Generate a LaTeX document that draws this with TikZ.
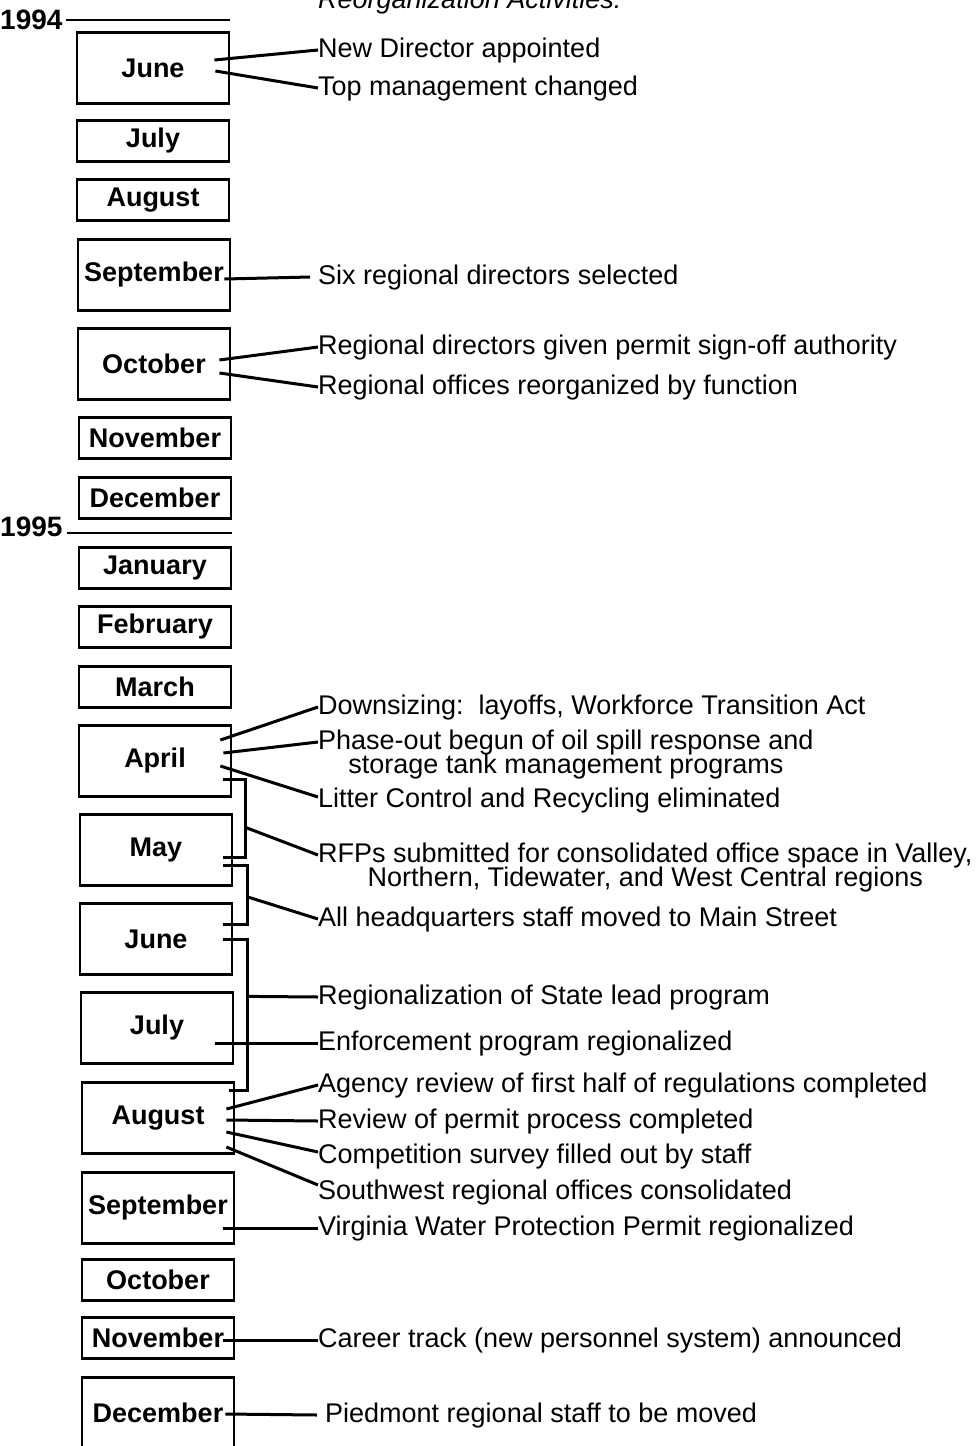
\documentclass[tikz,border=0pt]{standalone}
\usepackage{fontspec}
\setmainfont{Liberation Sans}
\usepackage{tikz}
\usetikzlibrary{positioning}
\tikzset{
  month/.style={draw, line width=2.8pt, minimum width=152pt, minimum height=41pt, inner sep=0pt, font=\fontsize{27}{27}\selectfont\bfseries},
  tallmonth/.style={month, minimum height=71pt},
  lbl/.style={anchor=west, inner sep=0pt, text height=19pt, text depth=5pt, font=\fontsize{27}{27}\selectfont},
  contlbl/.style={inner sep=0pt, text height=19pt, text depth=5pt, font=\fontsize{27}{27}\selectfont},
  year/.style={anchor=west, inner sep=0pt, font=\fontsize{28}{28}\selectfont\bfseries},
  yearrule/.style={line width=2pt},
  conn/.style={line width=3pt}
}
\begin{document}
\begin{tikzpicture}[x=1pt,y=-1pt]
\useasboundingbox (0,0) rectangle (979,1446);
\node[anchor=base west, inner sep=0pt, font=\fontsize{27}{27}\selectfont\itshape] (title) at (318,8) {Reorganization Activities:};

\node[year] (y94) at (0,20) {1994};
\coordinate (y94end) at (230,20);
\draw[yearrule] ([xshift=3pt]y94.east) -- (y94end);
\node[tallmonth] (jun94) at (153,68) {June};
\node[month] (jul94) at (153,141) {July};
\node[month] (aug94) at (153,200) {August};
\node[tallmonth] (sep94) at (154,275) {September};
\node[tallmonth] (oct94) at (154,364) {October};
\node[month] (nov94) at (155,438) {November};
\node[month] (dec94) at (155,498) {December};

\node[year] (y95) at (0,527) {1995};
\coordinate (y95end) at (232,533);
\draw[yearrule] ([xshift=4pt]y95.east |- y95end) -- (y95end);
\node[month] (jan95) at (155,568) {January};
\node[month] (feb95) at (155,627) {February};
\node[month] (mar95) at (155,687) {March};
\node[tallmonth] (apr95) at (155,761) {April};
\node[tallmonth] (may95) at (156,850) {May};
\node[tallmonth] (jun95) at (156,939) {June};
\node[tallmonth] (jul95) at (157,1028) {July};
\node[tallmonth] (aug95) at (158,1118) {August};
\node[tallmonth] (sep95) at (158,1208) {September};
\node[month] (oct95) at (158,1280) {October};
\node[month] (nov95) at (158,1338) {November};
\node[tallmonth] (dec95) at (158,1413) {December};

\node[lbl] (newdir) at (318,50) {New Director appointed};
\node[lbl] (topmgmt) at (318,88) {Top management changed};
\node[lbl] (sixdir) at (318,277) {Six regional directors selected};
\node[lbl] (signoff) at (318,347) {Regional directors given permit sign-off authority};
\node[lbl] (refunc) at (318,387) {Regional offices reorganized by function};
\node[lbl] (downsz) at (318,707) {Downsizing:\ \ layoffs, Workforce Transition Act};
\node[lbl] (phase) at (318,742) {Phase-out begun of oil spill response and};
\node[contlbl, below=0pt of phase] (phaseb) {storage tank management programs};
\node[lbl] (litter) at (318,800) {Litter Control and Recycling eliminated};
\node[lbl] (rfps) at (318,855) {RFPs submitted for consolidated office space in Valley,};
\node[contlbl, below=0pt of rfps] (rfpsb) {Northern, Tidewater, and West Central regions};
\node[lbl] (hqmove) at (318,919) {All headquarters staff moved to Main Street};
\node[lbl] (stlead) at (318,997) {Regionalization of State lead program};
\node[lbl] (enforce) at (318,1043) {Enforcement program regionalized};
\node[lbl] (agency) at (318,1085) {Agency review of first half of regulations completed};
\node[lbl] (permrev) at (318,1121) {Review of permit process completed};
\node[lbl] (survey) at (318,1156) {Competition survey filled out by staff};
\node[lbl] (swcons) at (318,1192) {Southwest regional offices consolidated};
\node[lbl] (vwpp) at (318,1228) {Virginia Water Protection Permit regionalized};
\node[lbl] (career) at (318,1340) {Career track (new personnel system) announced};
\node[lbl] (piedmont) at (325,1415) {Piedmont regional staff to be moved};

\draw[conn] ([xshift=-16pt,yshift=8pt]jun94.east) -- (newdir.west);
\draw[conn] ([xshift=-15pt,yshift=-3pt]jun94.east) -- (topmgmt.west);
\draw[conn] ([xshift=-7pt,yshift=-4pt]sep94.east) -- ([xshift=-8pt]sixdir.west);
\draw[conn] ([xshift=-12pt,yshift=4pt]oct94.east) -- (signoff.west);
\draw[conn] ([xshift=-12pt,yshift=-9pt]oct94.east) -- (refunc.west);
\draw[conn] ([xshift=-12pt,yshift=21pt]apr95.east) -- (downsz.west);
\draw[conn] ([xshift=-9pt,yshift=8pt]apr95.east) -- (phase.west);
\draw[conn] ([xshift=-12pt,yshift=-5pt]apr95.east) -- ([yshift=3pt]litter.west);
\draw[conn] ([xshift=-9pt,yshift=-18pt]apr95.east) -- ++(22pt,0) |- coordinate[pos=.31] (forkA) ([xshift=-10pt,yshift=-7pt]may95.east);
\draw[conn] (forkA) -- (rfps.west);
\draw[conn] ([xshift=-10pt,yshift=-15pt]may95.east) -- ++(24pt,0) |- coordinate[pos=.27] (forkB) ([xshift=-10pt,yshift=15pt]jun95.east);
\draw[conn] (forkB) -- (hqmove.west);
\draw[conn] ([xshift=-10pt]jun95.east) -- ++(24pt,0) |- coordinate[pos=.19] (forkC) ([xshift=-6pt,yshift=28pt]aug95.east);
\draw[conn] (forkC) -- (stlead.west);
\draw[conn] ([xshift=-19pt,yshift=-15pt]jul95.east) -- (enforce.west);
\draw[conn] ([xshift=-9pt,yshift=9pt]aug95.east) -- (agency.west);
\draw[conn] ([xshift=-9pt,yshift=-2pt]aug95.east) -- (permrev.west);
\draw[conn] ([xshift=-9pt,yshift=-14pt]aug95.east) -- ([yshift=4pt]survey.west);
\draw[conn] ([xshift=-9pt,yshift=-29pt]aug95.east) -- ([yshift=7pt]swcons.west);
\draw[conn] ([xshift=-12pt,yshift=-20pt]sep95.east) -- (vwpp.west);
\draw[conn] ([xshift=-12pt,yshift=-2pt]nov95.east) -- (career.west);
\draw[conn] ([xshift=-10pt,yshift=-1pt]dec95.east) -- ([xshift=-8pt]piedmont.west);
\end{tikzpicture}
\end{document}
